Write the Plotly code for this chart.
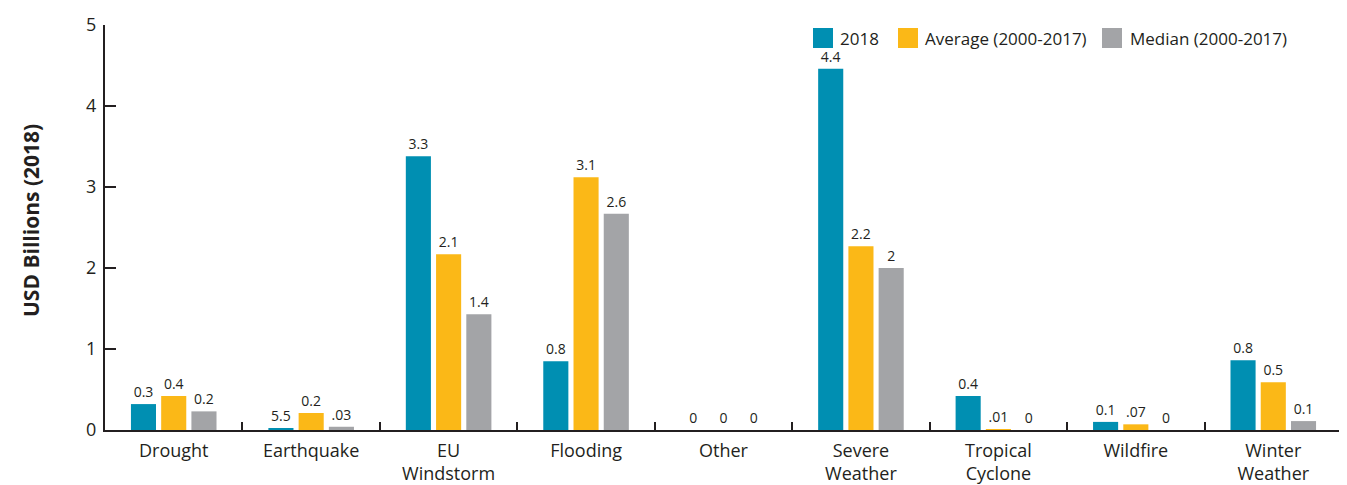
import plotly.graph_objects as go

categories = ["Drought", "Earthquake", "EU<br>Windstorm", "Flooding", "Other",
              "Severe<br>Weather", "Tropical<br>Cyclone", "Wildfire", "Winter<br>Weather"]

vals_2018 = [0.32, 0.025, 3.38, 0.85, 0, 4.46, 0.42, 0.10, 0.86]
vals_avg = [0.42, 0.21, 2.17, 3.12, 0, 2.27, 0.01, 0.07, 0.59]
vals_med = [0.23, 0.04, 1.43, 2.67, 0, 2.00, 0, 0, 0.11]

labels_2018 = ["0.3", "5.5", "3.3", "0.8", "0", "4.4", "0.4", "0.1", "0.8"]
labels_avg = ["0.4", "0.2", "2.1", "3.1", "0", "2.2", ".01", ".07", "0.5"]
labels_med = ["0.2", ".03", "1.4", "2.6", "0", "2", "0", "0", "0.1"]

series_names = ["2018", "Average (2000-2017)", "Median (2000-2017)"]
colors = ["#008FB2", "#FBB817", "#A3A4A7"]

font_family = "'Open Sans', sans-serif"
text_color = "#231F20"

# page has an 8px body margin; build figure to fill the remaining window
OFF = 8
W, H = 1347 - OFF, 485 - OFF
# plot area in page pixels
L, R, T, B = 105, 1342, 25, 430

def px(x):
    return (x - L) / (R - L)

def py(y):
    return (B - y) / (B - T)

fig = go.Figure()
for name, vals, labs, col in zip(series_names, [vals_2018, vals_avg, vals_med],
                                 [labels_2018, labels_avg, labels_med], colors):
    fig.add_trace(go.Bar(
        name=name, x=categories, y=vals, text=labs,
        textposition="outside", textangle=0, cliponaxis=False,
        textfont=dict(size=14, color=text_color, family=font_family),
        marker=dict(color=col, line=dict(width=0)),
        showlegend=False,
    ))

# manual legend with large square swatches
legend_items = [(813, 838), (898, 923), (1102, 1128)]
for (sx, tx), name, col in zip(legend_items, series_names, colors):
    fig.add_shape(type="rect", xref="paper", yref="paper",
                  x0=px(sx), x1=px(sx + 20), y0=py(48), y1=py(28),
                  fillcolor=col, line=dict(width=0))
    fig.add_annotation(xref="paper", yref="paper", x=px(tx), y=py(38),
                       xanchor="left", yanchor="middle", showarrow=False,
                       text=name, font=dict(size=17, family=font_family, color=text_color))

# y-axis title
fig.add_annotation(xref="paper", yref="paper", x=px(31), y=py(221),
                   xanchor="center", yanchor="middle", showarrow=False, textangle=-90,
                   text="<b>USD Billions (2018)</b>",
                   font=dict(size=21, family=font_family, color=text_color))

fig.update_layout(
    width=W, height=H,
    margin=dict(l=L - OFF, r=1347 - R, t=T - OFF, b=485 - B),
    paper_bgcolor="white", plot_bgcolor="white",
    barmode="group", bargap=0.34, bargroupgap=0.17,
    font=dict(family=font_family, color=text_color),
    showlegend=False,
    xaxis=dict(showline=True, linecolor=text_color, linewidth=2,
               ticks="inside", tickson="boundaries", ticklen=8, tickwidth=2,
               tickcolor=text_color, ticklabelstandoff=3,
               tickfont=dict(size=18, family=font_family, color=text_color),
               showgrid=False, automargin=False),
    yaxis=dict(range=[0, 5], dtick=1, showline=True, linecolor=text_color, linewidth=2,
               ticks="inside", ticklen=11, tickwidth=1.5, tickcolor=text_color,
               ticklabelstandoff=3,
               tickfont=dict(size=18, family=font_family, color=text_color),
               showgrid=False, zeroline=False, automargin=False),
)

fig.write_html("out.html")
